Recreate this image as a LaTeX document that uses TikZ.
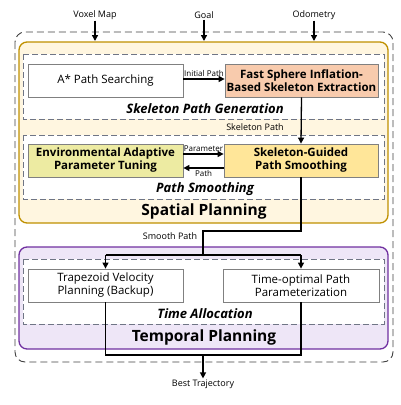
\documentclass[tikz,border=0pt]{standalone}
\usepackage{fontspec}
\setmainfont{Open Sans}
\usetikzlibrary{arrows.meta}
\definecolor{spfill}{HTML}{FFF6E0}
\definecolor{spdraw}{HTML}{BF9000}
\definecolor{tpfill}{HTML}{EEE6F7}
\definecolor{tpdraw}{HTML}{7030A0}
\definecolor{dashc}{HTML}{6F7585}
\definecolor{fastc}{HTML}{F8CBAD}
\definecolor{envc}{HTML}{EDEBA2}
\definecolor{sgc}{HTML}{FFE699}
\definecolor{boxd}{HTML}{808080}
\tikzset{
  blk/.style={draw=boxd, line width=0.8pt, minimum width=155pt, minimum height=33pt, align=center, inner sep=1pt, font=\fontsize{11.5}{13}\selectfont},
  bblk/.style={blk, font=\fontsize{11.5}{13}\selectfont\bfseries},
  subbox/.style={draw=dashc, line width=0.9pt, dash pattern=on 6pt off 3pt, fill=white},
  lbl/.style={font=\fontsize{8}{9}\selectfont, inner sep=1pt},
  iolbl/.style={font=\fontsize{9}{10}\selectfont, inner sep=1pt},
  ttl/.style={font=\fontsize{13}{15}\selectfont\bfseries\itshape, inner sep=0pt},
  big/.style={font=\fontsize{15.5}{18}\selectfont\bfseries, inner sep=0pt},
  arr/.style={-{Triangle[length=6pt,width=6pt]}, line width=1.3pt},
  thick line/.style={line width=1.6pt}
}
\begin{document}
\begin{tikzpicture}[x=1pt,y=-1pt]
\useasboundingbox (0,0) rectangle (400,405);
% outer dashed
\draw[line width=0.9pt, draw=black!75, dash pattern=on 7pt off 4pt, rounded corners=10pt] (15,32) rectangle (393,362);
% spatial
\draw[fill=spfill, draw=spdraw, line width=1.3pt, rounded corners=8pt] (19,42) rectangle (388,223);
\draw[subbox] (23,54) rectangle (384,119);
\draw[subbox] (23,135) rectangle (384,199);
% temporal
\draw[fill=tpfill, draw=tpdraw, line width=1.3pt, rounded corners=8pt] (19,247) rectangle (388,349);
\draw[subbox] (23,259) rectangle (384,324);

% nodes
\node[blk, fill=white] (astar) at (105.5,80.5) {A* Path Searching};
\node[bblk, fill=fastc, minimum width=153pt] (fast) at (301.5,80.5) {Fast Sphere Inflation-\\Based Skeleton Extraction};
\node[bblk, fill=envc] (env) at (105.5,160.5) {Environmental Adaptive\\Parameter Tuning};
\node[bblk, fill=sgc, minimum width=154pt] (sg) at (301,160.5) {Skeleton-Guided\\Path Smoothing};
\node[blk, fill=white] (trap) at (105.5,285.5) {Trapezoid Velocity\\Planning (Backup)};
\node[blk, fill=white, minimum width=156pt] (top) at (301,285.5) {Time-optimal Path\\Parameterization};

\node[ttl] (t1) at (205,108.5) {Skeleton Path Generation};
\node[ttl] (t2) at (205,189.5) {Path Smoothing};
\node[big] (t3) at (204,211) {Spatial Planning};
\node[ttl] (t4) at (205,313.5) {Time Allocation};
\node[big] (t5) at (204,337) {Temporal Planning};

% inputs
\node[iolbl] (vox) at (95,15) {Voxel Map};
\node[iolbl] (goal) at (204,15) {Goal};
\node[iolbl] (odo) at (314,15) {Odometry};
\coordinate (vin) at (95,41);
\coordinate (gin) at (204,41);
\coordinate (oin) at (314,41);
\draw[arr] (vox.south) -- (vin);
\draw[arr] (goal.south) -- (gin);
\draw[arr] (odo.south) -- (oin);

% initial path
\draw[arr] (astar.east |- 0,79) -- node[lbl, above=1pt] {Initial Path} (fast.west |- 0,79);
% skeleton path
\draw[arr] (fast.south) -- (sg.north);
\node[iolbl] (skl) at (255,127) {Skeleton Path};
% parameter/path
\draw[arr] (env.east |- 0,154) -- node[lbl, above=0.5pt] {Parameter} (sg.west |- 0,154);
\draw[arr] (sg.west |- 0,168) -- node[lbl, below=0.5pt] {Path} (env.east |- 0,168);

% smooth path
\coordinate (s1) at (sg.south |- 0,231);
\coordinate (s2) at (203,231);
\coordinate (s3) at (203,255);
\coordinate (sl) at (trap.north |- 0,255);
\coordinate (sr) at (top.north |- 0,255);
\draw[thick line] (sg.south) -- (s1) -- (s2) -- (s3);
\draw[thick line] (sl) -- (sr);
\draw[arr] (sl) -- (trap.north);
\draw[arr] (sr) -- (top.north);
\node[iolbl] (spl) at (170,236) {Smooth Path};

% output
\coordinate (ol) at (trap.south |- 0,355);
\coordinate (or) at (top.south |- 0,355);
\coordinate (om) at (203,355);
\draw[thick line] (trap.south) -- (ol) -- (or) -- (top.south);
\node[iolbl] (best) at (203,384) {Best Trajectory};
\draw[arr] (om) -- (best.north);
\end{tikzpicture}
\end{document}
